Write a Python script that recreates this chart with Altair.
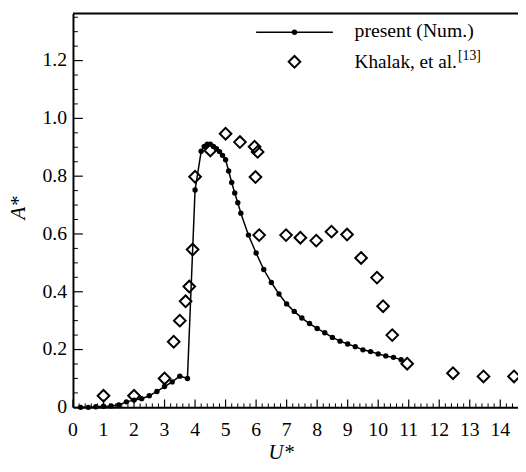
import altair as alt
import pandas as pd

# ---------------- data ----------------
present_u = [0.25, 0.5, 0.75, 1.0, 1.25, 1.5, 1.75, 2.0, 2.25, 2.5, 2.75, 3.0, 3.25, 3.5, 3.75,
             4.0, 4.2, 4.3, 4.4, 4.5, 4.6, 4.7, 4.8, 4.9, 5.0, 5.1, 5.2, 5.3, 5.4, 5.5,
             5.75, 6.0, 6.25, 6.5, 6.75, 7.0, 7.25, 7.5, 7.75, 8.0, 8.25, 8.5, 8.75, 9.0,
             9.25, 9.5, 9.75, 10.0, 10.25, 10.5, 10.75]
present_a = [0.0, 0.0, 0.002, 0.004, 0.005, 0.008, 0.019, 0.025, 0.03, 0.04, 0.055, 0.072, 0.088, 0.108, 0.1,
             0.752, 0.886, 0.903, 0.911, 0.911, 0.903, 0.895, 0.885, 0.872, 0.857, 0.818, 0.778, 0.742, 0.708, 0.672,
             0.596, 0.534, 0.477, 0.432, 0.392, 0.358, 0.332, 0.309, 0.29, 0.273, 0.258, 0.242, 0.229, 0.219,
             0.21, 0.199, 0.193, 0.185, 0.178, 0.173, 0.165]

khalak_u = [1.0, 2.0, 3.0, 3.3, 3.5, 3.69, 3.81, 3.92, 4.0, 4.5, 5.0, 5.47, 5.95, 6.05, 5.98, 6.1,
            6.98, 7.45, 7.97, 8.47, 8.98, 9.44, 9.96, 10.16, 10.46, 10.95, 12.45, 13.45, 14.45]
khalak_a = [0.04, 0.04, 0.10, 0.227, 0.30, 0.367, 0.418, 0.546, 0.798, 0.889, 0.947, 0.918, 0.902, 0.884, 0.797, 0.596,
            0.596, 0.587, 0.577, 0.608, 0.598, 0.517, 0.449, 0.35, 0.25, 0.151, 0.118, 0.107, 0.107]

x_major = list(range(0, 15))
x_labels = [str(v) for v in x_major]
x_minor = [round(i * 0.2, 1) for i in range(1, 73) if i % 5 != 0]
y_major = [0.0, 0.2, 0.4, 0.6, 0.8, 1.0, 1.2]
y_labels = ["0", "0.2", "0.4", "0.6", "0.8", "1.0", "1.2"]
y_minor = [round(i * 0.05, 2) for i in range(1, 28) if i % 4 != 0]

legend_labels = ["present (Num.)", "Khalak, et al.", "[13]"]

# ---------------- layout ----------------
W = 452
H = 400
XMAX = W / 31.0
YMAX = H / 293.5
FONT = "'Liberation Serif', 'DejaVu Serif', serif"

xs = alt.Scale(domain=[0, XMAX], nice=False, zero=False)
ys = alt.Scale(domain=[0, YMAX], nice=False, zero=False)

x_axis = alt.Axis(values=x_major, title="U*", ticks=False, grid=False, domain=True,
                  domainColor="black", domainWidth=2, labels=False,
                  titleFont=FONT, titleFontStyle="italic", titleFontWeight="normal",
                  titleFontSize=21, titleColor="black", titleX=211, titleY=52,
                  titleAlign="center", titleBaseline="alphabetic")
y_axis = alt.Axis(values=y_major, title="A*", ticks=False, grid=False, domain=True,
                  domainColor="black", domainWidth=2, labels=False,
                  titleFont=FONT, titleFontStyle="italic", titleFontWeight="normal",
                  titleFontSize=21, titleColor="black", titleX=-49, titleY=197,
                  titleAngle=270, titleAlign="center", titleBaseline="alphabetic")

X = alt.X("U:Q", scale=xs, axis=x_axis)
Y = alt.Y("A:Q", scale=ys, axis=y_axis)

df_p = pd.DataFrame({"U": present_u, "A": present_a})
df_k = pd.DataFrame({"U": khalak_u, "A": khalak_a})

line = alt.Chart(df_p).mark_line(color="black", strokeWidth=1.5).encode(x=X, y=Y)
dots = alt.Chart(df_p).mark_circle(size=30, color="black", opacity=1).encode(x=X, y=Y)
diam = alt.Chart(df_k).mark_point(shape="diamond", size=140, filled=False, color="black",
                                  strokeWidth=2, opacity=1).encode(x=X, y=Y)

ymaj = alt.Chart(pd.DataFrame({"A": y_major})).mark_rule(color="black", strokeWidth=1.2).encode(
    y=Y, x=alt.value(0), x2=alt.value(10))
ymin = alt.Chart(pd.DataFrame({"A": y_minor})).mark_rule(color="black", strokeWidth=1).encode(
    y=Y, x=alt.value(0), x2=alt.value(5))
xmaj = alt.Chart(pd.DataFrame({"U": x_major})).mark_rule(color="black", strokeWidth=1.2).encode(
    x=X, y=alt.value(H), y2=alt.value(H - 8))
xmin = alt.Chart(pd.DataFrame({"U": x_minor})).mark_rule(color="black", strokeWidth=1).encode(
    x=X, y=alt.value(H), y2=alt.value(H - 4))

xlab = alt.Chart(pd.DataFrame({"U": x_major, "lab": x_labels})).mark_text(
    font=FONT, fontSize=20, align="center", baseline="alphabetic", color="black").encode(
    x=X, y=alt.value(H + 29), text="lab:N")
ylab = alt.Chart(pd.DataFrame({"A": y_major, "lab": y_labels})).mark_text(
    font=FONT, fontSize=20, align="right", baseline="middle", color="black").encode(
    y=Y, x=alt.value(-6), text="lab:N")

one = pd.DataFrame({"d": [0]})
top = alt.Chart(one).mark_rule(color="black", strokeWidth=2).encode(
    x=alt.value(0), x2=alt.value(W), y=alt.value(0))

leg_line = alt.Chart(one).mark_rule(color="black", strokeWidth=1.5).encode(
    x=alt.value(186), x2=alt.value(264), y=alt.value(19))
leg_dot = alt.Chart(one).mark_circle(size=30, color="black", opacity=1).encode(
    x=alt.value(225), y=alt.value(19))
leg_dia = alt.Chart(one).mark_point(shape="diamond", size=140, filled=False, color="black",
                                    strokeWidth=2, opacity=1).encode(
    x=alt.value(225), y=alt.value(49))
leg_t1 = alt.Chart(one).mark_text(text=legend_labels[0], font=FONT, fontSize=20, align="left",
                                  baseline="alphabetic", color="black").encode(
    x=alt.value(286), y=alt.value(24))
leg_t2 = alt.Chart(one).mark_text(text=legend_labels[1], font=FONT, fontSize=19.5, align="left",
                                  baseline="alphabetic", color="black").encode(
    x=alt.value(286), y=alt.value(55))
leg_t3 = alt.Chart(one).mark_text(text=legend_labels[2], font=FONT, fontSize=14, align="left",
                                  baseline="alphabetic", color="black").encode(
    x=alt.value(391), y=alt.value(47))

chart = alt.layer(
    line, dots, diam, ymaj, ymin, xmaj, xmin, xlab, ylab, top,
    leg_line, leg_dot, leg_dia, leg_t1, leg_t2, leg_t3
).properties(
    width=W, height=H,
    autosize=alt.AutoSizeParams(type="none"),
    padding={"left": 66, "top": 2, "right": 0, "bottom": 58},
    background="white",
).configure_view(stroke=None)

chart.save("out.html", embed_options={"renderer": "svg", "actions": False})
